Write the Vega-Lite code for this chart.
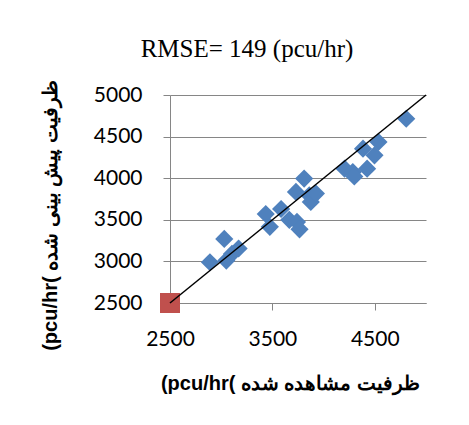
{
  "$schema": "https://vega.github.io/schema/vega-lite/v6.json",
  "width": 256,
  "height": 208,
  "autosize": {"type": "none"},
  "padding": {"left": 170, "top": 95, "right": 43, "bottom": 122},
  "background": "white",
  "config": {"view": {"stroke": null}},
  "title": {
    "text": "RMSE= 149 (pcu/hr)",
    "font": "Liberation Serif",
    "fontSize": 25,
    "fontWeight": "normal",
    "color": "black",
    "anchor": "middle",
    "frame": "group",
    "dx": -51,
    "baseline": "alphabetic",
    "offset": -2
  },
  "datasets": {
    "capacity": [
      {"observed": 2890, "predicted": 2990},
      {"observed": 3030, "predicted": 3270},
      {"observed": 3050, "predicted": 3010},
      {"observed": 3105, "predicted": 3090},
      {"observed": 3170, "predicted": 3155},
      {"observed": 3435, "predicted": 3570},
      {"observed": 3475, "predicted": 3415},
      {"observed": 3585, "predicted": 3630},
      {"observed": 3665, "predicted": 3500},
      {"observed": 3740, "predicted": 3475},
      {"observed": 3765, "predicted": 3385},
      {"observed": 3730, "predicted": 3835},
      {"observed": 3810, "predicted": 3995},
      {"observed": 3860, "predicted": 3795},
      {"observed": 3875, "predicted": 3715},
      {"observed": 3925, "predicted": 3815},
      {"observed": 4205, "predicted": 4115},
      {"observed": 4285, "predicted": 4075},
      {"observed": 4300, "predicted": 4020},
      {"observed": 4385, "predicted": 4355},
      {"observed": 4425, "predicted": 4115},
      {"observed": 4497, "predicted": 4275},
      {"observed": 4536, "predicted": 4435},
      {"observed": 4807, "predicted": 4715}
    ],
    "origin": [
      {"observed": 2500, "predicted": 2500}
    ],
    "identity": [
      {"observed": 2500, "predicted": 2500},
      {"observed": 5000, "predicted": 5000}
    ]
  },
  "encoding": {
    "x": {
      "field": "observed",
      "type": "quantitative",
      "scale": {"domain": [2500, 5000], "nice": false, "zero": false},
      "axis": {
        "values": [2500, 3500, 4500],
        "format": "d",
        "grid": false,
        "labelFlush": false,
        "labelOverlap": false,
        "domainColor": "#868686",
        "tickColor": "#868686",
        "tickSize": 7,
        "labelFont": "Lato",
        "labelFontSize": 21,
        "labelColor": "black",
        "labelPadding": 18,
        "title": "\u200e(pcu/hr(\u200e \u0638\u0631\u0641\u06cc\u062a \u0645\u0634\u0627\u0647\u062f\u0647 \u0634\u062f\u0647",
        "titleFont": "Liberation Sans",
        "titleFontSize": 20,
        "titleFontWeight": "bold",
        "titleColor": "black",
        "titleX": 120,
        "titleY": 80,
        "titleAlign": "center",
        "titleBaseline": "middle"
      }
    },
    "y": {
      "field": "predicted",
      "type": "quantitative",
      "scale": {"domain": [2500, 5000], "nice": false, "zero": false},
      "axis": {
        "values": [2500, 3000, 3500, 4000, 4500, 5000],
        "format": "d",
        "grid": true,
        "gridColor": "#868686",
        "gridOpacity": 1,
        "labelFlush": false,
        "labelOverlap": false,
        "domainColor": "#868686",
        "tickColor": "#868686",
        "tickSize": 7,
        "labelFont": "Lato",
        "labelFontSize": 21,
        "labelColor": "black",
        "labelPadding": 21,
        "title": "\u200e(pcu/hr(\u200e \u0638\u0631\u0641\u06cc\u062a \u067e\u06cc\u0634 \u0628\u06cc\u0646\u06cc \u0634\u062f\u0647",
        "titleFont": "Liberation Sans",
        "titleFontSize": 20,
        "titleFontWeight": "bold",
        "titleColor": "black",
        "titleAngle": 270,
        "titleX": -120,
        "titleY": 120,
        "titleAlign": "center",
        "titleBaseline": "middle"
      }
    }
  },
  "layer": [
    {
      "data": {"name": "capacity"},
      "mark": {"type": "point", "shape": "diamond", "filled": true, "size": 330, "color": "#4F81BD", "opacity": 1}
    },
    {
      "data": {"name": "origin"},
      "mark": {"type": "point", "shape": "square", "filled": true, "size": 400, "color": "#C0504D", "opacity": 1}
    },
    {
      "data": {"name": "identity"},
      "mark": {"type": "line", "color": "black", "strokeWidth": 1.5}
    }
  ]
}
